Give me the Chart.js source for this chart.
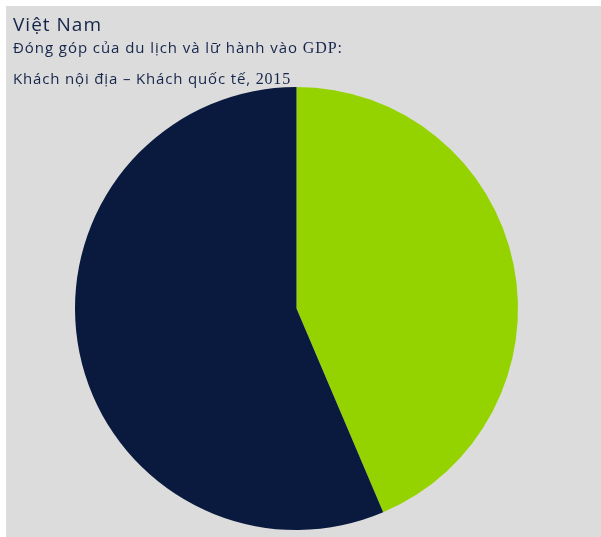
<!DOCTYPE html>
<html>
<head>
<meta charset="utf-8">
<script src="https://cdn.jsdelivr.net/npm/chart.js@4.4.0/dist/chart.umd.min.js"></script>
<style>
  html, body { margin: 0; padding: 0; background: #fff; }
  #wrap { width: 601px; height: 537px; position: relative; }
</style>
</head>
<body>
<div id="wrap"><canvas id="myChart" width="601" height="537"></canvas></div>
<script>
// data
var labels = ["Khách quốc tế", "Khách nội địa"];
var values = [43.6, 56.4];
var sliceColors = ["#94d300", "#0a1a3e"];

var titleText = "Việt Nam";
var subParts = [["Đóng góp của du lịch và lữ hành vào ", "sans"], ["GDP:", "serif"]];
var subParts2 = [["Khách nội địa – Khách quốc tế, ", "sans"], ["2015", "serif"]];

var textColor = "#15254a";

function fontFor(kind, size) {
  return kind == "serif" ? (size + 1) + "px 'Liberation Serif'" : size + "px 'Open Sans'";
}

// draw a line made of parts, spreading letters so it ends at the given width
function drawParts(ctx, parts, x, y, size, width) {
  var plain = 0, chars = 0;
  parts.forEach(function (p) {
    ctx.font = fontFor(p[1], size);
    plain += ctx.measureText(p[0]).width;
    chars += p[0].length;
  });
  var sp = Math.max(0, (width - plain) / chars);
  ctx.letterSpacing = sp + "px";
  parts.forEach(function (p) {
    ctx.font = fontFor(p[1], size);
    ctx.fillText(p[0], x, y);
    x += ctx.measureText(p[0]).width;
  });
  ctx.letterSpacing = "0px";
}

var bgPlugin = {
  id: "bg",
  beforeDraw: function (chart) {
    var ctx = chart.ctx;
    ctx.save();
    ctx.fillStyle = "#fff";
    ctx.fillRect(0, 0, chart.width, chart.height);
    ctx.fillStyle = "#dcdcdc";
    ctx.fillRect(6, 6, chart.width - 6, chart.height - 6);
    ctx.restore();
  },
  afterDraw: function (chart) {
    var ctx = chart.ctx;
    ctx.save();
    ctx.fillStyle = textColor;
    ctx.textBaseline = "alphabetic";
    drawParts(ctx, [[titleText, "sans"]], 13, 31, 19, 89);
    drawParts(ctx, subParts, 13, 53, 15, 330);
    drawParts(ctx, subParts2, 13, 84, 15, 278);
    ctx.restore();
  }
};

new Chart("myChart", {
  type: "pie",
  data: {
    labels: labels,
    datasets: [{
      data: values,
      backgroundColor: sliceColors,
      borderWidth: 0
    }]
  },
  options: {
    responsive: false,
    animation: false,
    layout: { padding: { top: 87, bottom: 7, left: 75, right: 83 } },
    plugins: {
      legend: { display: false },
      tooltip: { enabled: false }
    }
  },
  plugins: [bgPlugin]
});
</script>
</body>
</html>
